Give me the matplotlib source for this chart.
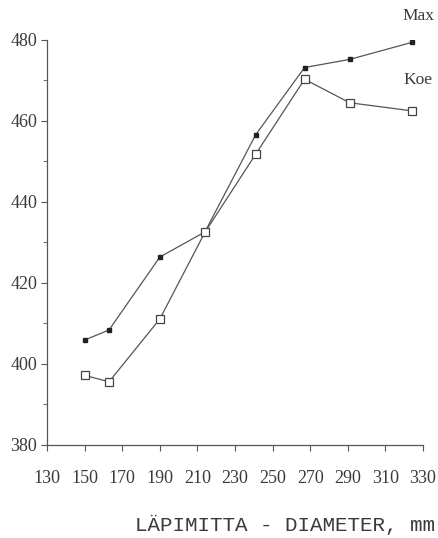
import matplotlib.pyplot as plt

diameter = [150, 163, 190, 214, 241, 267, 291, 324]
max_vals = [405.9, 408.4, 426.4, 432.6, 456.6, 473.2, 475.2, 479.4]
koe_vals = [397.2, 395.6, 411.1, 432.5, 451.8, 470.3, 464.5, 462.5]

x_ticks = list(range(130, 331, 20))
y_ticks = [380, 400, 420, 440, 460, 480]

ink = '#3a3a3a'
serif = 'Liberation Serif'

fig = plt.figure(figsize=(4.39, 5.38), dpi=100)
ax = fig.add_axes([0.107, 0.1729, 0.8566, 0.7528])

ax.plot(diameter, max_vals, color='#555555', lw=0.9, marker='s', ms=3.4,
        mfc='#222222', mec='#222222', zorder=3)
ax.plot(diameter, koe_vals, color='#555555', lw=0.9, marker='s', ms=5.6,
        mfc='white', mec='#444444', mew=0.9, zorder=4)

ax.set_xlim(130, 330)
ax.set_ylim(380, 480)
ax.set_xticks(x_ticks)
ax.set_yticks(y_ticks)
ax.set_yticks(range(390, 480, 20), minor=True)

for side in ('top', 'right'):
    ax.spines[side].set_visible(False)
for side in ('left', 'bottom'):
    ax.spines[side].set_color('#555555')
    ax.spines[side].set_linewidth(0.9)

ax.tick_params(axis='both', which='major', direction='out', length=4,
               width=0.8, color='#555555', labelcolor=ink, labelsize=13)
ax.tick_params(axis='y', which='minor', direction='out', length=3,
               width=0.8, color='#777777')
ax.tick_params(axis='x', pad=14)
ax.tick_params(axis='y', pad=3)
for lbl in ax.get_xticklabels() + ax.get_yticklabels():
    lbl.set_fontfamily(serif)

ax.set_xlabel('LÄPIMITTA - DIAMETER, mm', family='Liberation Mono',
              fontsize=15, color=ink)
ax.xaxis.set_label_coords(0.632, -0.172)

ax.text(0.987, 1.059, 'Max', transform=ax.transAxes, ha='center', va='center',
        family=serif, fontsize=12.5, color=ink)
ax.text(0.987, 0.901, 'Koe', transform=ax.transAxes, ha='center', va='center',
        family=serif, fontsize=12.5, color=ink)

fig.savefig('out.png', dpi=100)
